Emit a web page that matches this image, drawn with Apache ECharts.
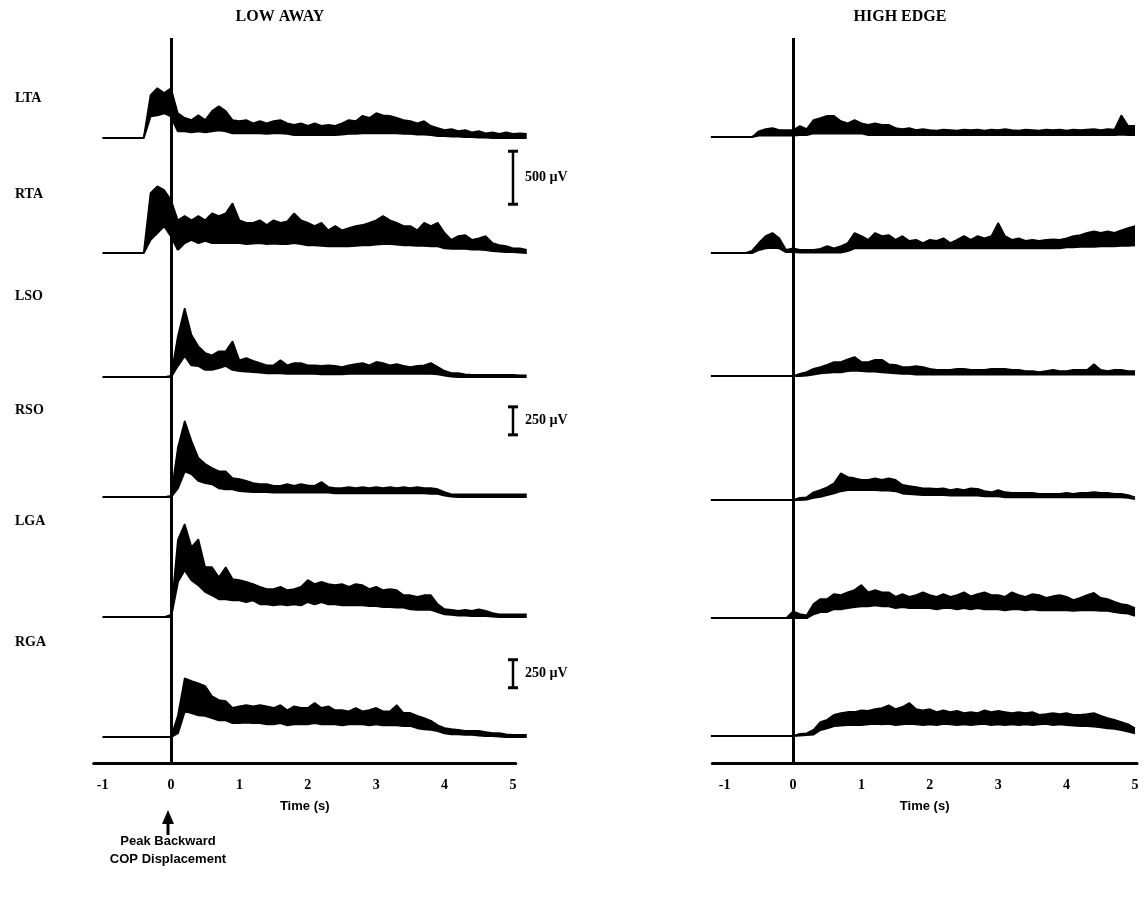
<!DOCTYPE html>
<html><head><meta charset="utf-8">
<script src="https://cdn.jsdelivr.net/npm/echarts@6/dist/echarts.min.js"></script>
<style>html,body{margin:0;padding:0;background:#fff}#c{width:1148px;height:902px}</style>
</head><body><div id="c"></div>
<script>
// ---------------- DATA ----------------
const panelTitles = ['LOW AWAY', 'HIGH EDGE'];
const muscles = ['LTA', 'RTA', 'LSO', 'RSO', 'LGA', 'RGA'];
const tickLabels = [-1, 0, 1, 2, 3, 4, 5];
const axisTitle = 'Time (s)';
// sample times (s)
const timeLow = [-1,-0.9,-0.8,-0.7,-0.6,-0.5,-0.4,-0.3,-0.2,-0.1,0,0.1,0.2,0.3,0.4,0.5,0.6,0.7,0.8,0.9,1,1.1,1.2,1.3,1.4,1.5,1.6,1.7,1.8,1.9,2,2.1,2.2,2.3,2.4,2.5,2.6,2.7,2.8,2.9,3,3.1,3.2,3.3,3.4,3.5,3.6,3.7,3.8,3.9,4,4.1,4.2,4.3,4.4,4.5,4.6,4.7,4.8,4.9,5,5.1,5.2];
const timeHigh = [-1.2,-1.1,-1,-0.9,-0.8,-0.7,-0.6,-0.5,-0.4,-0.3,-0.2,-0.1,0,0.1,0.2,0.3,0.4,0.5,0.6,0.7,0.8,0.9,1,1.1,1.2,1.3,1.4,1.5,1.6,1.7,1.8,1.9,2,2.1,2.2,2.3,2.4,2.5,2.6,2.7,2.8,2.9,3,3.1,3.2,3.3,3.4,3.5,3.6,3.7,3.8,3.9,4,4.1,4.2,4.3,4.4,4.5,4.6,4.7,4.8,4.9,5];

// EMG envelopes (µV above baseline): upper (hi) and lower (lo) edge of the trace
// LOW AWAY
const LA_LTA_hi = [0,0,0,0,0,0,0, 405,470,425,470, 235,190,170,215,170,255,300,255,170, 160,170,140,160,140,160,170,140,125,140, 115,140,115,125,115,140,170,160,210,190, 235,215,210,190,170,160,140,160,115,95, 75,85,65,75,55,65,45,55,40,55, 40,45,40];
const LA_LTA_lo = [0,0,0,0,0,0,0, 205,215,235,205, 65,65,55,65,55,65,75,65,45, 45,45,45,45,40,45,45,40,30,30, 30,30,30,30,30,35,40,40,45,45, 45,45,45,45,40,40,35,35,30,20, 20,15,15,10,10,5,5,0,0,0, 0,0,0];
const LA_RTA_hi = [0,0,0,0,0,0,0, 565,630,595,500, 310,350,310,350,310,375,350,375,470, 310,285,285,310,265,310,285,300,375,310, 285,255,285,215,255,215,235,255,265,285, 310,350,310,285,255,255,215,285,255,285, 190,125,160,170,125,140,160,95,75,65, 45,45,30];
const LA_RTA_lo = [0,0,0,0,0,0,0, 125,190,255,160, 30,95,125,95,115,95,95,95,95, 95,85,90,95,85,90,85,85,95,85, 75,75,70,65,65,65,65,70,75,75, 80,85,85,80,75,75,70,70,65,65, 45,40,40,40,35,35,30,20,15,10, 10,5,0];
const LA_LSO_hi = [0,0,0,0,0,0,0,0,0,0, 10, 365,615,375,275,215,195,230,230,320, 150,170,145,125,105,105,150,105,125,125, 105,105,100,105,100,90,105,115,125,105, 135,125,105,115,100,90,100,105,125,90, 55,35,35,25,20,20,20,20,20,20, 20,15,15];
const LA_LSO_lo = [0,0,0,0,0,0,0,0,0,0, 0, 100,190,105,100,65,65,80,100,65, 55,50,45,40,35,35,35,30,30,30, 30,30,25,25,25,25,30,30,30,30, 30,30,30,30,30,30,30,30,30,25, 15,5,0,0,0,0,0,0,0,0, 0,0,0];
const LA_RSO_hi = [0,0,0,0,0,0,0,0,0,0, 10, 440,680,500,350,295,260,230,230,170, 160,145,125,115,115,100,100,115,100,115, 105,100,135,90,80,80,90,80,90,80, 90,80,90,80,90,80,90,80,80,70, 45,25,25,25,25,25,25,25,25,25, 25,25,25];
const LA_RSO_lo = [0,0,0,0,0,0,0,0,0,0, 0, 80,230,205,145,125,115,80,70,70, 55,50,45,45,45,40,40,40,40,40, 40,40,40,40,35,35,35,35,35,35, 35,35,35,35,35,35,35,35,30,30, 15,5,0,0,0,0,0,0,0,0, 0,0,0];
const LA_LGA_hi = [0,0,0,0,0,0,0,0,0,0, 20, 690,830,625,695,445,445,355,445,340, 330,315,295,270,250,250,270,240,250,270, 330,295,315,295,285,295,270,295,285,250, 270,240,250,240,195,195,180,195,195,115, 70,65,55,65,55,70,55,35,25,25, 25,25,25];
const LA_LGA_lo = [0,0,0,0,0,0,0,0,0,0, 0, 315,420,330,285,225,195,160,160,150, 150,135,150,115,115,105,115,105,115,105, 135,115,135,115,115,105,105,105,105,100, 100,90,90,85,85,70,65,65,65,45, 25,20,15,15,10,10,10,5,0,0, 0,0,0];
const LA_RGA_hi = [0,0,0,0,0,0,0,0,0,0, 0, 190,525,500,480,455,365,330,320,260, 275,285,275,285,275,260,285,240,275,260, 260,305,260,275,240,240,230,260,230,240, 260,230,230,285,215,215,190,170,145,105, 80,70,65,55,55,55,45,35,35,25, 20,20,20];
const LA_RGA_lo = [0,0,0,0,0,0,0,0,0,0, 0, 35,230,215,195,190,170,150,150,125, 125,130,125,125,115,115,125,105,115,115, 115,125,115,115,115,105,115,115,115,105, 115,105,105,105,100,100,80,70,65,55, 35,25,25,20,20,15,10,10,5,0, 0,0,0];
// HIGH EDGE
const HE_LTA_hi = [0,0,0,0,0,0,0, 55,75,85,65,65, 65,105,75,160,180,200,200,150,130,160, 130,115,130,115,115,85,75,85,65,75, 65,60,70,65,60,70,65,70,60,70, 65,75,65,60,70,65,60,70,65,70, 60,70,65,70,75,65,75,70,205,105, 105];
const HE_LTA_lo = [0,0,0,0,0,0,0, 15,15,15,15,15, 15,20,20,35,35,35,35,35,35,35, 35,20,20,20,20,20,20,20,20,20, 20,20,20,20,20,20,20,20,20,20, 20,20,20,20,20,20,20,20,20,20, 20,20,20,20,20,20,20,20,25,20, 20];
const HE_RTA_hi = [0,0,0,0,0,0, 20,95,160,190,140,30, 45,30,30,30,40,65,45,65,95,190, 160,125,190,160,170,125,160,115,125,95, 125,115,140,95,125,160,125,160,140,160, 285,160,125,140,115,125,115,125,130,125, 140,160,170,190,205,190,205,190,215,235, 255];
const HE_RTA_lo = [0,0,0,0,0,0, 0,30,45,50,45,10, 10,5,5,5,5,5,5,5,20,45, 45,45,45,45,45,45,45,45,45,45, 45,45,45,45,45,45,45,45,45,45, 45,45,45,45,45,45,45,45,45,45, 55,55,60,60,60,65,65,65,70,70, 75];
const HE_LSO_hi = [0,0,0,0,0,0,0,0,0,0,0,0,0, 20,35,65,80,100,125,125,150,170, 125,125,145,145,105,100,80,80,90,80, 65,55,55,55,65,65,55,55,55,65, 65,65,55,55,45,45,35,45,55,45, 45,55,55,55,105,55,45,55,55,45, 45];
const HE_LSO_lo = [0,0,0,0,0,0,0,0,0,0,0,0,0, 0,5,15,25,30,35,35,45,50, 45,40,40,35,30,25,20,20,15,15, 15,15,15,15,15,15,15,15,15,15, 15,15,15,15,15,15,15,15,15,15, 15,15,15,15,15,15,15,15,15,15, 15];
const HE_RSO_hi = [0,0,0,0,0,0,0,0,0,0,0,0,0, 20,25,70,90,115,150,240,205,195, 180,180,195,180,195,180,135,125,115,105, 105,100,105,90,100,90,105,100,80,70, 90,70,65,65,65,65,55,55,55,55, 65,55,65,65,70,65,65,55,55,45, 25];
const HE_RSO_lo = [0,0,0,0,0,0,0,0,0,0,0,0,0, 0,5,20,30,45,60,80,90,90, 90,90,90,85,85,80,60,55,50,45, 45,45,45,40,40,40,40,40,35,35, 35,25,25,25,25,25,25,25,25,25, 25,25,25,25,25,25,25,25,25,20, 10];
const HE_LGA_hi = [0,0,0,0,0,0,0,0,0,0,0,0, 60,35,25,125,170,170,215,205,230,250, 295,230,250,230,230,190,215,190,205,230, 205,190,215,190,205,230,195,215,230,205, 205,190,230,205,190,215,205,180,195,205, 190,160,180,205,225,180,170,145,125,115, 90];
const HE_LGA_lo = [0,0,0,0,0,0,0,0,0,0,0,0, 0,0,0,35,55,55,80,80,90,100, 105,105,115,105,105,90,100,90,90,90, 90,80,90,90,80,90,80,90,80,80, 80,70,80,80,70,80,70,70,70,70, 70,65,70,70,70,65,65,55,45,40, 20];
const HE_RGA_hi = [0,0,0,0,0,0,0,0,0,0,0,0,0, 20,25,55,125,145,190,205,215,215, 230,225,240,250,275,240,260,295,240,230, 240,215,230,215,225,205,215,205,230,215, 225,215,205,215,205,215,190,195,205,195, 205,190,190,195,205,180,160,145,125,105, 70];
const HE_RGA_lo = [0,0,0,0,0,0,0,0,0,0,0,0,0, 5,10,15,55,70,90,95,100,100, 100,105,110,105,110,100,105,110,105,100, 105,100,110,105,100,105,100,105,110,100, 105,100,105,100,105,100,105,110,100,105, 100,95,90,90,85,80,70,65,55,40, 25];

// calibration bars (µV), drawn at t = 5 s in the LOW AWAY panel
const scaleBarRows = ['RTA', 'RSO', 'RGA'];
const scaleBarLabels = ['500 µV', '250 µV', '250 µV'];
const scaleBarFrom = [460, 555, 440];
const scaleBarTo = [960, 805, 690];
const scaleBarTime = 5;

// ---------------- LAYOUT ----------------
const X0 = [171, 793];          // px of t = 0 in each panel
const PXS = 68.4;               // px per second
const PANEL_T = [[-1.13, 5.04], [-1.18, 5.03]];
const PANEL_TOP = 38, AXIS_Y = 763;
const BASE = [[138, 253, 377, 497, 617, 737], [137, 253, 376, 500, 618, 736]];
const UVPP = { TA: 500 / 53, SO: 250 / 28, GA: 250 / 28 };
const YMIN = -150, YMAX = 1000;
const SERIF = '"Liberation Serif", "DejaVu Serif", serif';
const SANS = '"Liberation Sans", Arial, sans-serif';

const times = [timeLow, timeHigh];
const traceSets = [
  [[LA_LTA_hi, LA_LTA_lo], [LA_RTA_hi, LA_RTA_lo], [LA_LSO_hi, LA_LSO_lo], [LA_RSO_hi, LA_RSO_lo], [LA_LGA_hi, LA_LGA_lo], [LA_RGA_hi, LA_RGA_lo]],
  [[HE_LTA_hi, HE_LTA_lo], [HE_RTA_hi, HE_RTA_lo], [HE_LSO_hi, HE_LSO_lo], [HE_RSO_hi, HE_RSO_lo], [HE_LGA_hi, HE_LGA_lo], [HE_RGA_hi, HE_RGA_lo]]
];

const grids = [], xAxes = [], yAxes = [], series = [];
for (let p = 0; p < 2; p++) {
  const t = times[p];
  for (let r = 0; r < 6; r++) {
    const uvpp = UVPP[muscles[r].slice(1)];
    const gi = grids.length;
    grids.push({
      left: X0[p] + PXS * t[0], width: PXS * (t[t.length - 1] - t[0]),
      top: BASE[p][r] - YMAX / uvpp, height: (YMAX - YMIN) / uvpp,
      containLabel: false, outerBoundsMode: 'none'
    });
    xAxes.push({ gridIndex: gi, type: 'category', data: t.map(String), boundaryGap: false, show: false });
    yAxes.push({ gridIndex: gi, type: 'value', min: YMIN, max: YMAX, show: false });
    const hi = traceSets[p][r][0], lo = traceSets[p][r][1];
    if (hi.length !== t.length || lo.length !== t.length) throw new Error('length ' + p + ' ' + muscles[r] + ' ' + hi.length + ' ' + lo.length);
    const common = { type: 'line', xAxisIndex: gi, yAxisIndex: gi, stack: 'emg' + gi, symbol: 'none', silent: true,
      lineStyle: { color: '#000', width: 2.2 }, z: 3 };
    series.push(Object.assign({}, common, { name: muscles[r] + ' lo', data: lo }));
    series.push(Object.assign({}, common, { name: muscles[r], data: hi.map((v, i) => Math.max(0, v - lo[i])),
      lineStyle: { color: '#000', width: 1.6 }, areaStyle: { color: '#000', opacity: 1 } }));
  }
}
// calibration bars
scaleBarRows.forEach((m, k) => {
  const gi = muscles.indexOf(m); // LOW AWAY panel grid
  const tc = String(scaleBarTime);
  series.push({
    type: 'line', xAxisIndex: gi, yAxisIndex: gi, silent: true, z: 4, showAllSymbol: true,
    lineStyle: { color: '#000', width: 2.5 }, itemStyle: { color: '#000' },
    symbol: 'rect', symbolSize: [10, 3],
    data: [
      { value: [tc, scaleBarFrom[k]] },
      { value: [tc, (scaleBarFrom[k] + scaleBarTo[k]) / 2], symbol: 'circle', symbolSize: 0,
        label: { show: true, position: 'right', distance: 12, formatter: scaleBarLabels[k],
          color: '#000', fontFamily: SERIF, fontWeight: 'bold', fontSize: 14 } },
      { value: [tc, scaleBarTo[k]] }
    ]
  });
});
// panel axes with the t = 0 line
for (let p = 0; p < 2; p++) {
  const gi = grids.length;
  grids.push({ left: X0[p] + PXS * PANEL_T[p][0], width: PXS * (PANEL_T[p][1] - PANEL_T[p][0]),
    top: PANEL_TOP, height: AXIS_Y - PANEL_TOP, containLabel: false, outerBoundsMode: 'none' });
  xAxes.push({ gridIndex: gi, type: 'value', min: PANEL_T[p][0], max: PANEL_T[p][1],
    axisLine: { show: true, onZero: false, lineStyle: { color: '#000', width: 3 } },
    axisTick: { show: false }, splitLine: { show: false },
    axisLabel: { customValues: tickLabels, color: '#000', fontFamily: SERIF, fontWeight: 'bold', fontSize: 14, margin: 15 },
    name: axisTitle, nameLocation: 'middle', nameGap: 37,
    nameTextStyle: { color: '#000', fontFamily: SANS, fontWeight: 'bold', fontSize: 13 } });
  yAxes.push({ gridIndex: gi, type: 'value', min: 0, max: 1, show: false });
  series.push({ type: 'line', xAxisIndex: gi, yAxisIndex: gi, data: [], silent: true, z: 6,
    markLine: { silent: true, symbol: ['none', 'none'], label: { show: false }, animation: false,
      lineStyle: { color: '#000', width: 3, type: 'solid' }, data: [{ xAxis: 0 }] } });
}

// text annotations
const labelY = [98, 194, 296, 410, 521, 642];
const graphic = [];
panelTitles.forEach((txt, p) => graphic.push({ type: 'text', x: [280, 900][p], y: 17,
  style: { text: txt, fill: '#000', font: 'bold 16px ' + SERIF, textAlign: 'center', textVerticalAlign: 'middle' } }));
muscles.forEach((m, r) => graphic.push({ type: 'text', x: 15, y: labelY[r],
  style: { text: m, fill: '#000', font: 'bold 14px ' + SERIF, textAlign: 'left', textVerticalAlign: 'middle' } }));
const ax = X0[0] - 3;
graphic.push({ type: 'polygon', shape: { points: [[ax, 810], [ax - 6, 824], [ax + 6, 824]] }, style: { fill: '#000' } });
graphic.push({ type: 'rect', shape: { x: ax - 1.5, y: 822, width: 3, height: 13 }, style: { fill: '#000' } });
graphic.push({ type: 'text', x: ax, y: 841, style: { text: 'Peak Backward', fill: '#000', font: 'bold 13px ' + SANS, textAlign: 'center', textVerticalAlign: 'middle' } });
graphic.push({ type: 'text', x: ax, y: 859, style: { text: 'COP Displacement', fill: '#000', font: 'bold 13px ' + SANS, textAlign: 'center', textVerticalAlign: 'middle' } });

const chart = echarts.init(document.getElementById('c'));
chart.setOption({
  animation: false, backgroundColor: '#fff',
  grid: grids, xAxis: xAxes, yAxis: yAxes, series: series, graphic: graphic
});
</script></body></html>
